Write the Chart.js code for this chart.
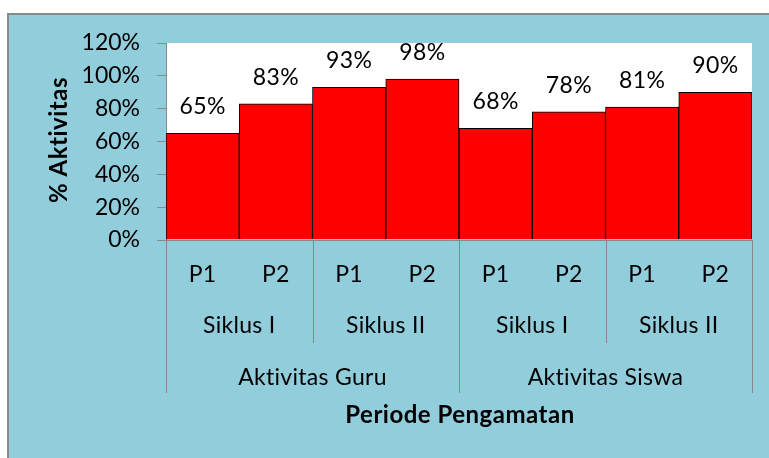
<!DOCTYPE html>
<html>
<head>
<meta charset="utf-8">
<script src="https://cdn.jsdelivr.net/npm/chart.js@4"></script>
<style>
  body { margin: 0; background: #ffffff; }
  #wrap { width: 769px; height: 458px; }
</style>
</head>
<body>
<div id="wrap"><canvas id="myChart" width="769" height="458"></canvas></div>
<script>
// Chart data
const periods = ['P1', 'P2', 'P1', 'P2', 'P1', 'P2', 'P1', 'P2'];
const cycles = ['Siklus I', 'Siklus II', 'Siklus I', 'Siklus II'];
const groups = ['Aktivitas Guru', 'Aktivitas Siswa'];
const activityValues = [65, 83, 93, 98, 68, 78, 81, 90];
const yMax = 120;
const yStep = 20;

const FONT = 'Lato, "Open Sans", sans-serif';
const GREY = '#898989';

// Background, outer border and white plot area
const backgroundPlugin = {
    id: 'background',
    beforeDraw(chart) {
        const c = chart.ctx;
        const a = chart.chartArea;
        c.save();
        c.fillStyle = '#ffffff';
        c.fillRect(0, 0, chart.width, chart.height);
        c.fillStyle = '#92CDDC';
        c.fillRect(8, 14, chart.width, chart.height);
        c.strokeStyle = GREY;
        c.lineWidth = 2;
        c.beginPath();
        c.moveTo(8, chart.height + 5);
        c.lineTo(8, 14);
        c.lineTo(chart.width + 5, 14);
        c.stroke();
        c.fillStyle = '#ffffff';
        c.fillRect(a.left, a.top, a.right - a.left, a.bottom - a.top);
        c.restore();
    }
};

// Value labels, grouped category axis and axis titles
const labelsPlugin = {
    id: 'labels',
    afterDatasetsDraw(chart) {
        const c = chart.ctx;
        const a = chart.chartArea;
        const xs = chart.scales.x;
        const meta = chart.getDatasetMeta(0);
        c.save();
        c.letterSpacing = '0.3px'; // also stops the "ti" ligature

        // value labels
        c.fillStyle = '#000';
        c.font = '23px ' + FONT;
        c.textAlign = 'center';
        c.textBaseline = 'alphabetic';
        meta.data.forEach((bar, i) => {
            c.fillText(activityValues[i] + '%', bar.x, bar.y - 19);
        });

        // baseline
        c.strokeStyle = GREY;
        c.lineWidth = 1;
        c.beginPath();
        c.moveTo(a.left - 9, a.bottom + 0.5);
        c.lineTo(a.right, a.bottom + 0.5);
        c.stroke();

        const edge = (i) => {
            if (i <= 0) return a.left;
            if (i >= periods.length) return a.right;
            return (xs.getPixelForValue(i - 1) + xs.getPixelForValue(i)) / 2;
        };

        // separators
        const perCycle = periods.length / cycles.length;
        const perGroup = periods.length / groups.length;
        for (let i = 0; i <= periods.length; i += perCycle) {
            const full = i % perGroup === 0;
            const x = Math.round(edge(i)) + 0.5;
            c.beginPath();
            c.moveTo(x, a.bottom);
            c.lineTo(x, full ? 393 : 343);
            c.stroke();
        }

        // label rows
        c.fillStyle = '#000';
        c.font = '23px ' + FONT;
        periods.forEach((p, i) => {
            c.fillText(p, xs.getPixelForValue(i), 282);
        });
        cycles.forEach((s, j) => {
            c.fillText(s, (edge(j * perCycle) + edge((j + 1) * perCycle)) / 2, 333);
        });
        groups.forEach((g, j) => {
            c.fillText(g, (edge(j * perGroup) + edge((j + 1) * perGroup)) / 2, 385);
        });

        // axis titles
        c.font = 'bold 24px ' + FONT;
        c.letterSpacing = '0.5px';
        c.fillText('Periode Pengamatan', 460, 423);
        c.translate(67, 140);
        c.rotate(-Math.PI / 2);
        c.fillText('% Aktivitas', 0, 0);

        c.restore();
    }
};

const ctx = document.getElementById('myChart').getContext('2d');
const chart = new Chart(ctx, {
    type: 'bar',
    data: {
        labels: periods,
        datasets: [{
            data: activityValues,
            backgroundColor: '#FF0000',
            borderColor: '#000000',
            borderWidth: 1,
            categoryPercentage: 1,
            barPercentage: 1
        }]
    },
    options: {
        responsive: false,
        animation: false,
        layout: {
            padding: { left: 0, top: 43, right: 17, bottom: 218 }
        },
        plugins: {
            legend: { display: false },
            tooltip: { enabled: false }
        },
        scales: {
            x: {
                display: false
            },
            y: {
                min: 0,
                max: yMax,
                afterFit(scale) { scale.width = 166; },
                ticks: {
                    stepSize: yStep,
                    padding: 17,
                    color: '#000',
                    font: { family: FONT, size: 23 },
                    callback: (v) => v + '%'
                },
                grid: {
                    drawOnChartArea: false,
                    drawTicks: true,
                    tickLength: 9,
                    color: GREY
                },
                border: { display: true, color: GREY }
            }
        }
    },
    plugins: [backgroundPlugin, labelsPlugin]
});
</script>
</body>
</html>
